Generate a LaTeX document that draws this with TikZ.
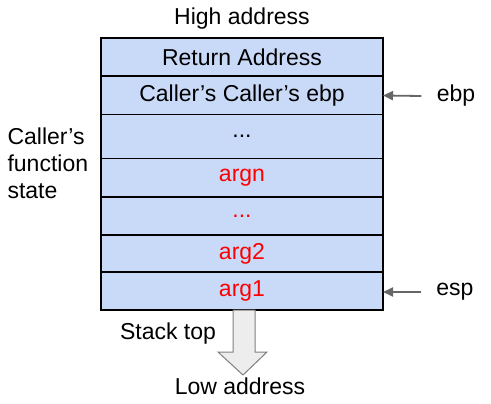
\documentclass[tikz,border=0pt]{standalone}
\usepackage{fontspec}
\setmainfont{Liberation Sans}
\usepackage{tikz}
\usetikzlibrary{arrows.meta}

\definecolor{cellblue}{HTML}{C9DAF8}
\definecolor{argred}{HTML}{FF0000}
\definecolor{ptrgray}{HTML}{666666}

\begin{document}
\begin{tikzpicture}[
      x=1pt, y=-1pt,
      font=\fontsize{23}{27}\selectfont,
      cell/.style={shape=rectangle, draw=black, fill=cellblue, line width=1.6pt, minimum width=282pt, inner sep=0pt, outer sep=0pt},
      arg/.style={cell, text=argred},
      ptr/.style={draw=ptrgray, line width=1.8pt, -{Triangle[length=10pt, width=9pt]}}
    ]
      \useasboundingbox (0,0) rectangle (491,404);
      \def\cx{242}

      % Stack frame
      \node[cell, minimum height=38pt] (ret) at (\cx, 57) {Return Address};
      \node[cell, minimum height=38pt] (oldebp) at (\cx, 95.5) {Caller’s Caller’s ebp};
      \node[cell, minimum height=44pt] (state) at (\cx, 136.5) {...};
      \node[arg, minimum height=38pt] (argn) at (\cx, 177.5) {argn};
      \node[arg, minimum height=38pt] (argdots) at (\cx, 216) {...};
      \node[arg, minimum height=37pt] (arg2) at (\cx, 253.5) {arg2};
      \node[arg, minimum height=38pt] (arg1) at (\cx, 291) {arg1};

      % Labels
      \node (high) at (\cx, 19) {High address};
      \node[anchor=west, align=left] (caller) at (4, 163) {Caller’s\\function\\state};

      % Registers
      \node (ebp) at (456, 96) {ebp};
      \node (esp) at (455, 292) {esp};
      \draw[ptr] (ebp.west) ++(-12,0) coordinate (ebptail) -- (oldebp.east);
      \draw[ptr] (ebptail |- esp) -- (arg1.east |- esp);

      % Growth direction
      \draw[draw=gray, line width=1pt, fill=black!7]
        (233, 310) -- (255, 310) -- (255, 352) -- (267, 352) -- (243, 375)
        -- (218, 352) -- (233, 352) -- cycle;
      \node (top) at (168, 334) {Stack top};
      \node (low) at (240, 386) {Low address};
    \end{tikzpicture}
\end{document}
